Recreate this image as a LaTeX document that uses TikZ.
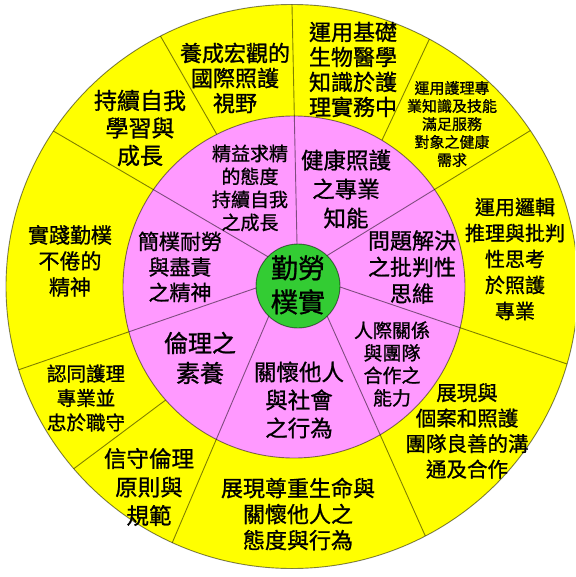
\documentclass[tikz,border=0pt]{standalone}
\usepackage{fontspec}
\newfontfamily\cjk[FakeBold=1]{Noto Sans CJK TC}
\definecolor{wheelyellow}{HTML}{FFFF00}
\definecolor{wheelpink}{HTML}{FF99FF}
\definecolor{wheelgreen}{HTML}{33CC33}
\tikzset{
  rim/.style={draw=black, draw opacity=0.5, line width=0.9pt},
  spoke/.style={draw=black, draw opacity=0.5, line width=0.9pt, shorten <=-15pt, shorten >=-15pt},
  lbl/.style 2 args={align=center, inner sep=0pt, font=\cjk\fontsize{#1}{#2}\selectfont},
}
\begin{document}
\begin{tikzpicture}[x=1pt, y=-1pt]
            \useasboundingbox (0,0) rectangle (575,577);
            \clip (0,0) rectangle (575,577);

            % Outer ring
            \fill[wheelyellow] (292,286.5) ellipse [x radius=286pt, y radius=282pt];
            \begin{scope}
              \clip (292,286.5) ellipse [x radius=286pt, y radius=282pt];
              \draw[spoke] (216,133) -- (161,37);
              \draw[spoke] (163,402) -- (72,470);
              \draw[spoke] (383,138) -- (428,42);
            \end{scope}

            % Middle ring
            \filldraw[rim, fill=wheelpink] (294,287) circle [radius=171pt];
            \begin{scope}
              \clip (292,286.5) ellipse [x radius=286pt, y radius=282pt];
              \draw[spoke] (297,244) -- (292,5);
              \draw[spoke] (265,255) -- (55,132);
              \draw[spoke] (256,288) -- (18,370);
              \draw[spoke] (268,318) -- (170,548);
              \draw[spoke] (328,318) -- (428,542);
              \draw[spoke] (340,287) -- (570,365);
              \draw[spoke] (328,255) -- (528,132);
            \end{scope}
            \draw[rim] (292,286.5) ellipse [x radius=286pt, y radius=282pt];

            % Hub
            \filldraw[rim, fill=wheelgreen] (298,286) circle [radius=42pt];
            \node[lbl={27}{34}] (hub) at (298,285) {勤勞\\樸實};

            % Middle ring labels
            \node[lbl={19}{23}] (excel) at (250,188) {精益求精\\的態度\\持續自我\\之成長};
            \node[lbl={22.5}{29}] (health) at (346,189) {健康照護\\之專業\\知能};
            \node[lbl={22}{26.5}] (problem) at (412,267) {問題解決\\之批判性\\思維};
            \node[lbl={19}{22.5}] (relation) at (392,364) {人際關係\\與團隊\\合作之\\能力};
            \node[lbl={22.5}{28}] (society) at (299,400) {關懷他人\\與社會\\之行為};
            \node[lbl={24}{30}] (ethics) at (200,358) {倫理之\\素養};
            \node[lbl={21}{25.5}] (simple) at (180,267) {簡樸耐勞\\與盡責\\之精神};

            % Outer ring labels
            \node[lbl={22}{25}] (vision) at (235,78) {養成宏觀的\\國際照護\\視野};
            \node[lbl={22}{25}] (science) at (353,69.5) {運用基礎\\生物醫學\\知識於護\\理實務中};
            \node[lbl={15}{18}] (needs) at (452,124) {運用護理專\\業知識及技能\\滿足服務\\對象之健康\\需求};
            \node[lbl={20}{26}] (logic) at (515,259) {運用邏輯\\推理與批判\\性思考\\於照護\\專業};
            \node[lbl={20.5}{25.5}] (teamwork) at (467,431) {展現與\\個案和照護\\團隊良善的溝\\通及合作};
            \node[lbl={22}{26}] (respect) at (298,514) {展現尊重生命與\\關懷他人之\\態度與行為};
            \node[lbl={22.5}{28.5}] (rules) at (149,487) {信守倫理\\原則與\\規範};
            \node[lbl={19.5}{24.5}] (loyalty) at (86,398) {認同護理\\專業並\\忠於職守};
            \node[lbl={21}{26}] (diligence) at (70,261) {實踐勤樸\\不倦的\\精神};
            \node[lbl={23}{27.5}] (selfgrowth) at (140,128) {持續自我\\學習與\\成長};
        \end{tikzpicture}
\end{document}
